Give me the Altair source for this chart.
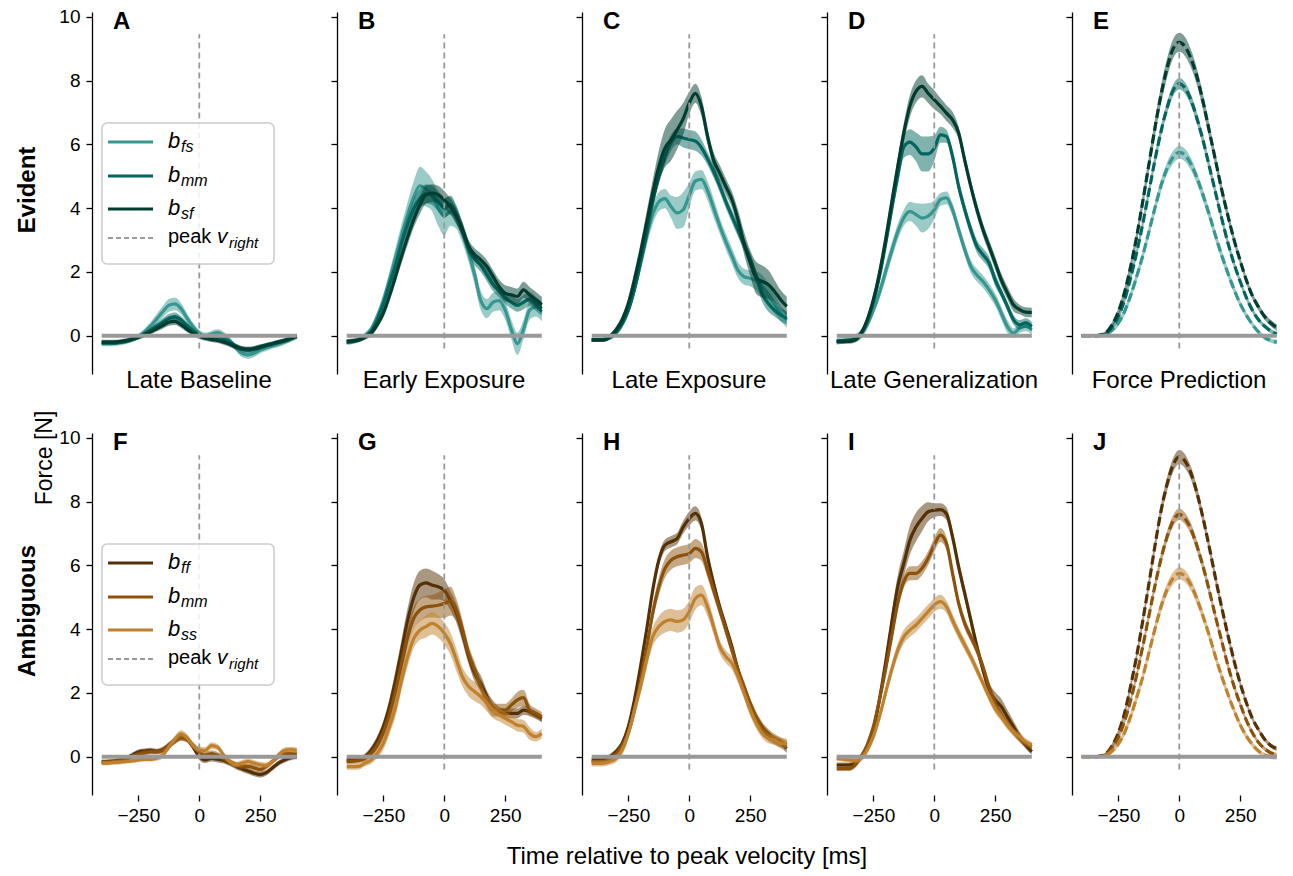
import altair as alt
import pandas as pd

# ---------------- data ----------------
T = list(range(-400, 401, 25))  # time relative to peak velocity [ms]

X_DOMAIN = [-440, 405]
Y_DOMAIN = [-1.2, 10.15]
Y_TICKS = [0, 2, 4, 6, 8, 10]
X_TICKS = [-250, 0, 250]
ZERO_SPAN = [-400, 400]
PEAK_T = 0
PEAK_SPAN = [-0.4, 9.45]

COND_TITLES = ["Late Baseline", "Early Exposure", "Late Exposure", "Late Generalization", "Force Prediction"]
TOP_LETTERS = ["A", "B", "C", "D", "E"]
BOT_LETTERS = ["F", "G", "H", "I", "J"]
ROW_NAMES = ["Evident", "Ambiguous"]
EV_SUBS = ["fs", "mm", "sf"]
AM_SUBS = ["ff", "mm", "ss"]
EV_COLORS = ["#35978f", "#01665e", "#003c30"]
AM_COLORS = ["#543005", "#8c510a", "#bf812d"]

# ---- Evident row ----
A_fs = [-0.25,-0.25,-0.24,-0.22,-0.18,-0.12,-0.02,0.12,0.30,0.52,0.75,0.95,1.00,0.85,0.55,0.28,0.08,0.00,0.05,0.10,0.02,-0.15,-0.38,-0.55,-0.60,-0.55,-0.45,-0.38,-0.32,-0.27,-0.20,-0.12,-0.02]
A_mm = [-0.22,-0.22,-0.22,-0.20,-0.17,-0.12,-0.05,0.05,0.17,0.30,0.43,0.55,0.60,0.50,0.32,0.15,0.02,-0.05,-0.05,-0.05,-0.10,-0.20,-0.32,-0.42,-0.45,-0.42,-0.36,-0.30,-0.25,-0.20,-0.15,-0.08,-0.02]
A_sf = [-0.20,-0.20,-0.20,-0.18,-0.15,-0.10,-0.05,0.03,0.12,0.22,0.32,0.42,0.45,0.35,0.20,0.08,-0.02,-0.08,-0.12,-0.15,-0.20,-0.27,-0.35,-0.40,-0.42,-0.40,-0.35,-0.30,-0.25,-0.20,-0.15,-0.08,-0.02]
A_fs_b = [0.08,0.08,0.08,0.08,0.08,0.08,0.08,0.10,0.12,0.15,0.18,0.20,0.20,0.18,0.15,0.12,0.10,0.10,0.10,0.10,0.10,0.10,0.10,0.12,0.12,0.12,0.10,0.10,0.08,0.08,0.08,0.08,0.08]
A_mm_b = [0.07,0.07,0.07,0.07,0.07,0.07,0.07,0.08,0.09,0.10,0.12,0.13,0.13,0.12,0.10,0.09,0.08,0.08,0.08,0.08,0.08,0.08,0.08,0.09,0.09,0.09,0.08,0.08,0.07,0.07,0.07,0.07,0.07]
A_sf_b = [0.07,0.07,0.07,0.07,0.07,0.07,0.07,0.08,0.08,0.09,0.10,0.11,0.11,0.10,0.09,0.08,0.08,0.08,0.08,0.08,0.08,0.08,0.08,0.08,0.08,0.08,0.08,0.07,0.07,0.07,0.07,0.07,0.07]

B_fs = [-0.20,-0.18,-0.12,0.00,0.20,0.60,1.10,1.75,2.45,3.15,3.80,4.35,4.70,4.60,4.40,4.00,3.75,3.90,3.70,3.20,2.60,1.90,1.10,0.85,1.05,1.10,0.80,0.20,-0.25,0.20,0.80,0.90,0.75]
B_mm = [-0.20,-0.18,-0.13,-0.02,0.12,0.50,1.00,1.60,2.20,2.90,3.50,4.00,4.30,4.45,4.40,4.20,4.00,4.10,3.80,3.30,2.75,2.40,2.20,1.90,1.60,1.40,1.20,1.05,0.95,1.05,1.15,1.00,0.85]
B_sf = [-0.18,-0.16,-0.13,-0.05,0.08,0.35,0.71,1.25,1.86,2.50,3.10,3.65,4.10,4.42,4.47,4.42,4.26,4.05,3.74,3.32,2.80,2.54,2.38,2.17,1.86,1.54,1.33,1.28,1.23,1.44,1.28,1.13,0.97]
B_fs_b = [0.08,0.08,0.08,0.10,0.12,0.15,0.20,0.25,0.30,0.35,0.40,0.50,0.60,0.55,0.50,0.55,0.60,0.45,0.35,0.30,0.30,0.30,0.30,0.30,0.30,0.30,0.30,0.30,0.35,0.30,0.30,0.30,0.30]
B_mm_b = [0.07,0.07,0.07,0.08,0.10,0.12,0.15,0.18,0.20,0.22,0.25,0.28,0.30,0.30,0.30,0.30,0.30,0.30,0.28,0.25,0.22,0.20,0.20,0.20,0.20,0.20,0.20,0.20,0.20,0.22,0.22,0.22,0.22]
B_sf_b = [0.07,0.07,0.07,0.08,0.10,0.12,0.15,0.18,0.20,0.22,0.25,0.25,0.28,0.28,0.28,0.28,0.28,0.25,0.25,0.22,0.20,0.20,0.20,0.20,0.20,0.22,0.25,0.25,0.25,0.25,0.25,0.25,0.25]

C_fs = [-0.13,-0.13,-0.12,-0.05,0.12,0.40,0.85,1.50,2.30,3.10,3.80,4.20,4.30,4.05,3.85,3.95,4.40,4.85,4.90,4.55,4.00,3.45,2.95,2.50,2.05,1.85,1.80,1.72,1.55,1.30,1.00,0.70,0.50]
C_mm = [-0.13,-0.13,-0.12,-0.05,0.10,0.38,0.80,1.45,2.30,3.20,4.20,5.00,5.60,6.05,6.25,6.20,6.15,6.10,5.90,5.55,5.15,4.70,4.20,3.75,3.30,2.85,2.40,1.85,1.30,1.00,0.80,0.65,0.55]
C_sf = [-0.13,-0.13,-0.13,-0.02,0.19,0.50,1.00,1.75,2.60,3.54,4.48,5.30,5.88,6.14,6.45,6.80,7.30,7.60,7.19,6.25,5.50,5.10,4.68,4.27,3.64,2.90,2.28,1.81,1.70,1.60,1.39,1.13,0.92]
C_fs_b = [0.06,0.06,0.06,0.08,0.10,0.15,0.20,0.25,0.30,0.30,0.30,0.30,0.30,0.35,0.50,0.55,0.40,0.30,0.30,0.30,0.30,0.25,0.25,0.25,0.25,0.25,0.25,0.30,0.35,0.35,0.30,0.25,0.25]
C_mm_b = [0.06,0.06,0.06,0.08,0.10,0.12,0.15,0.20,0.25,0.25,0.25,0.25,0.25,0.25,0.25,0.30,0.30,0.30,0.25,0.20,0.20,0.20,0.20,0.20,0.20,0.20,0.20,0.20,0.25,0.25,0.20,0.20,0.20]
C_sf_b = [0.06,0.06,0.06,0.08,0.10,0.15,0.20,0.25,0.30,0.35,0.40,0.50,0.60,0.65,0.60,0.50,0.35,0.30,0.30,0.25,0.25,0.25,0.25,0.25,0.30,0.35,0.40,0.50,0.50,0.45,0.35,0.30,0.30]

D_fs = [-0.18,-0.15,-0.12,-0.08,0.05,0.35,0.80,1.35,2.00,2.65,3.25,3.70,3.90,3.80,3.69,3.75,3.95,4.27,4.32,3.95,3.32,2.70,2.17,1.90,1.70,1.44,1.13,0.71,0.29,0.08,0.24,0.29,0.19]
D_mm = [-0.18,-0.17,-0.15,-0.10,0.06,0.45,1.05,1.85,2.85,3.95,5.00,5.92,6.07,5.92,5.70,5.70,5.88,6.30,6.25,5.62,4.68,3.95,3.32,2.80,2.54,2.28,1.75,1.34,0.92,0.50,0.34,0.40,0.29]
D_sf = [-0.18,-0.18,-0.18,-0.13,0.08,0.50,1.13,1.96,3.00,4.16,5.30,6.36,7.20,7.66,7.82,7.60,7.40,7.20,6.98,6.77,6.36,5.50,4.68,3.95,3.32,2.80,2.28,1.75,1.34,0.97,0.82,0.74,0.73]
D_fs_b = [0.10,0.10,0.10,0.12,0.15,0.15,0.15,0.20,0.25,0.25,0.25,0.25,0.30,0.35,0.45,0.40,0.30,0.20,0.20,0.20,0.20,0.20,0.20,0.20,0.20,0.20,0.20,0.20,0.20,0.15,0.15,0.15,0.15]
D_mm_b = [0.07,0.07,0.07,0.08,0.10,0.12,0.15,0.20,0.20,0.25,0.30,0.35,0.40,0.45,0.55,0.55,0.40,0.25,0.20,0.20,0.20,0.20,0.20,0.20,0.20,0.20,0.20,0.15,0.15,0.15,0.15,0.15,0.15]
D_sf_b = [0.07,0.07,0.07,0.08,0.10,0.12,0.15,0.20,0.20,0.25,0.25,0.30,0.35,0.35,0.35,0.30,0.30,0.25,0.25,0.25,0.20,0.20,0.20,0.20,0.20,0.20,0.20,0.20,0.20,0.20,0.15,0.15,0.15]

E_fs = [0.00,0.00,0.00,0.00,0.05,0.18,0.40,0.75,1.25,1.85,2.50,3.25,4.00,4.70,5.25,5.60,5.75,5.65,5.35,4.90,4.35,3.75,3.10,2.50,1.95,1.45,1.00,0.65,0.35,0.12,-0.05,-0.15,-0.20]
E_mm = [0.00,0.00,0.00,0.02,0.08,0.28,0.60,1.10,1.80,2.60,3.50,4.50,5.50,6.40,7.15,7.70,7.90,7.75,7.35,6.75,6.05,5.25,4.45,3.65,2.90,2.25,1.70,1.20,0.80,0.50,0.30,0.15,0.05]
E_sf = [0.00,0.00,0.00,0.02,0.10,0.35,0.75,1.35,2.15,3.10,4.20,5.35,6.50,7.55,8.40,9.00,9.20,9.05,8.65,8.05,7.25,6.35,5.45,4.55,3.75,3.00,2.35,1.75,1.25,0.90,0.60,0.40,0.25]
E_fs_b = [0.02,0.02,0.02,0.03,0.05,0.07,0.10,0.12,0.14,0.15,0.16,0.17,0.18,0.18,0.19,0.20,0.20,0.20,0.19,0.18,0.18,0.17,0.16,0.15,0.14,0.12,0.10,0.09,0.08,0.07,0.07,0.07,0.07]
E_mm_b = [0.02,0.02,0.02,0.03,0.05,0.07,0.10,0.12,0.14,0.15,0.16,0.17,0.18,0.18,0.18,0.18,0.18,0.18,0.18,0.17,0.17,0.16,0.15,0.14,0.13,0.12,0.10,0.09,0.08,0.07,0.07,0.07,0.07]
E_sf_b = [0.02,0.02,0.02,0.03,0.06,0.09,0.12,0.15,0.18,0.20,0.22,0.24,0.26,0.28,0.30,0.30,0.30,0.30,0.28,0.26,0.24,0.22,0.20,0.18,0.16,0.14,0.12,0.11,0.10,0.10,0.10,0.10,0.10]

# ---- Ambiguous row ----
F_ff = [-0.16,-0.15,-0.14,-0.10,-0.05,0.05,0.15,0.18,0.20,0.17,0.22,0.35,0.50,0.62,0.55,0.30,0.00,-0.10,-0.05,-0.08,-0.12,-0.20,-0.30,-0.38,-0.45,-0.52,-0.56,-0.50,-0.35,-0.20,-0.10,-0.03,0.00]
F_mm = [-0.18,-0.17,-0.15,-0.12,-0.08,0.00,0.08,0.12,0.15,0.15,0.20,0.35,0.50,0.60,0.55,0.35,0.15,0.05,0.10,0.05,-0.05,-0.15,-0.25,-0.30,-0.30,-0.35,-0.40,-0.30,-0.15,0.00,0.10,0.10,0.08]
F_ss = [-0.20,-0.20,-0.18,-0.17,-0.15,-0.13,-0.10,-0.08,-0.08,-0.05,0.05,0.30,0.55,0.72,0.60,0.35,0.22,0.20,0.35,0.30,0.05,-0.15,-0.25,-0.20,-0.15,-0.20,-0.25,-0.27,-0.15,0.05,0.20,0.22,0.20]
F_ff_b = [0.07,0.07,0.07,0.07,0.07,0.08,0.08,0.08,0.08,0.08,0.09,0.10,0.10,0.10,0.10,0.10,0.10,0.10,0.10,0.10,0.09,0.09,0.09,0.09,0.09,0.09,0.09,0.09,0.08,0.08,0.08,0.08,0.08]
F_mm_b = [0.07,0.07,0.07,0.07,0.07,0.08,0.08,0.08,0.08,0.08,0.09,0.10,0.10,0.10,0.10,0.10,0.10,0.10,0.10,0.10,0.09,0.09,0.09,0.09,0.09,0.09,0.09,0.09,0.08,0.08,0.08,0.08,0.08]
F_ss_b = [0.07,0.07,0.07,0.07,0.07,0.07,0.07,0.07,0.07,0.08,0.09,0.10,0.11,0.11,0.11,0.10,0.10,0.10,0.10,0.10,0.09,0.09,0.09,0.09,0.09,0.09,0.09,0.09,0.09,0.09,0.09,0.09,0.09]

G_ff = [-0.10,-0.10,-0.08,0.00,0.20,0.50,0.93,1.56,2.40,3.34,4.28,5.00,5.38,5.45,5.38,5.33,5.22,4.90,4.50,3.87,3.14,2.60,2.30,1.88,1.56,1.41,1.36,1.36,1.36,1.46,1.41,1.31,1.20]
G_mm = [-0.15,-0.14,-0.12,-0.05,0.10,0.35,0.75,1.30,2.05,2.90,3.75,4.35,4.60,4.70,4.72,4.75,4.80,4.88,4.60,3.97,3.24,2.72,2.20,1.72,1.46,1.46,1.46,1.62,1.78,1.85,1.46,1.36,1.25]
G_ss = [-0.31,-0.31,-0.30,-0.20,-0.10,0.10,0.42,0.94,1.56,2.40,3.14,3.71,3.97,4.08,4.18,4.08,3.87,3.55,3.03,2.50,2.20,2.04,1.88,1.67,1.46,1.31,1.20,1.10,0.99,0.95,0.73,0.63,0.73]
G_ff_b = [0.08,0.08,0.08,0.10,0.12,0.15,0.20,0.25,0.30,0.35,0.40,0.45,0.45,0.45,0.45,0.40,0.35,0.30,0.30,0.30,0.25,0.25,0.25,0.20,0.20,0.15,0.15,0.15,0.15,0.15,0.12,0.12,0.12]
G_mm_b = [0.08,0.08,0.08,0.10,0.12,0.15,0.20,0.25,0.30,0.35,0.35,0.35,0.35,0.35,0.35,0.40,0.45,0.45,0.35,0.30,0.25,0.25,0.20,0.20,0.20,0.20,0.20,0.20,0.25,0.25,0.20,0.15,0.15]
G_ss_b = [0.10,0.10,0.10,0.10,0.12,0.15,0.20,0.25,0.30,0.30,0.30,0.30,0.30,0.35,0.35,0.35,0.35,0.35,0.35,0.30,0.30,0.30,0.25,0.25,0.25,0.20,0.20,0.20,0.20,0.20,0.20,0.15,0.15]

H_ff = [-0.10,-0.10,-0.09,0.00,0.16,0.42,0.94,1.78,2.82,3.97,5.22,6.16,6.63,6.74,6.84,7.20,7.47,7.63,7.31,6.27,5.43,4.70,4.08,3.45,2.72,2.09,1.57,1.15,0.84,0.63,0.52,0.42,0.26]
H_mm = [-0.16,-0.16,-0.15,-0.08,0.08,0.35,0.75,1.45,2.40,3.40,4.50,5.33,5.90,6.16,6.27,6.32,6.37,6.53,6.42,5.85,5.22,4.60,3.97,3.34,2.72,2.20,1.68,1.25,0.94,0.73,0.57,0.47,0.37]
H_ss = [-0.21,-0.21,-0.20,-0.15,-0.05,0.21,0.73,1.46,2.20,3.03,3.76,4.08,4.24,4.29,4.24,4.29,4.55,4.96,5.07,4.70,4.08,3.45,3.14,2.93,2.51,1.99,1.46,1.04,0.73,0.57,0.52,0.42,0.42]
H_ff_b = [0.08,0.08,0.08,0.09,0.10,0.12,0.14,0.16,0.18,0.18,0.18,0.18,0.18,0.18,0.18,0.20,0.22,0.22,0.20,0.18,0.18,0.16,0.15,0.15,0.15,0.15,0.15,0.14,0.14,0.14,0.14,0.14,0.14]
H_mm_b = [0.08,0.08,0.08,0.09,0.10,0.12,0.15,0.18,0.20,0.22,0.25,0.28,0.30,0.30,0.30,0.30,0.30,0.30,0.28,0.25,0.22,0.20,0.18,0.18,0.16,0.16,0.15,0.15,0.14,0.14,0.14,0.14,0.14]
H_ss_b = [0.10,0.10,0.10,0.10,0.12,0.15,0.18,0.22,0.25,0.28,0.30,0.32,0.35,0.35,0.35,0.35,0.35,0.35,0.32,0.30,0.25,0.22,0.20,0.20,0.20,0.18,0.18,0.16,0.15,0.15,0.15,0.15,0.15]

I_ff = [-0.26,-0.26,-0.26,-0.21,0.00,0.31,0.84,1.78,2.93,4.18,5.33,6.06,6.79,7.20,7.47,7.68,7.73,7.75,7.62,6.89,5.95,5.12,4.28,3.45,2.72,2.09,1.78,1.57,1.25,0.94,0.63,0.37,0.16]
I_mm = [-0.37,-0.37,-0.37,-0.26,0.00,0.37,0.94,1.78,2.72,3.76,4.81,5.49,5.75,5.75,5.91,6.22,6.64,6.95,6.69,5.75,4.81,4.18,3.76,3.34,2.82,2.19,1.67,1.31,1.04,0.78,0.57,0.42,0.31]
I_ss = [-0.05,-0.08,-0.10,-0.12,-0.05,0.21,0.63,1.25,1.99,2.72,3.34,3.76,3.97,4.13,4.34,4.55,4.76,4.86,4.70,4.28,3.87,3.50,3.13,2.72,2.30,1.88,1.51,1.25,0.99,0.78,0.63,0.47,0.37]
I_ff_b = [0.08,0.08,0.08,0.09,0.10,0.12,0.15,0.20,0.25,0.30,0.35,0.40,0.45,0.45,0.40,0.30,0.22,0.20,0.20,0.20,0.20,0.20,0.20,0.20,0.20,0.22,0.25,0.25,0.22,0.18,0.15,0.12,0.10]
I_mm_b = [0.08,0.08,0.08,0.09,0.10,0.12,0.14,0.16,0.18,0.20,0.20,0.20,0.22,0.22,0.22,0.22,0.22,0.22,0.20,0.20,0.18,0.18,0.16,0.16,0.15,0.15,0.15,0.14,0.14,0.12,0.12,0.10,0.10]
I_ss_b = [0.08,0.08,0.08,0.09,0.10,0.12,0.14,0.16,0.18,0.20,0.22,0.22,0.22,0.22,0.22,0.22,0.22,0.22,0.20,0.20,0.18,0.18,0.16,0.16,0.15,0.15,0.15,0.14,0.14,0.12,0.12,0.10,0.10]

J_ff = [0.00,0.00,0.00,0.02,0.10,0.35,0.75,1.35,2.20,3.15,4.25,5.40,6.60,7.70,8.55,9.15,9.40,9.25,8.85,8.20,7.40,6.50,5.55,4.65,3.80,3.00,2.30,1.70,1.20,0.85,0.55,0.35,0.25]
J_mm = [0.00,0.00,0.00,0.02,0.08,0.28,0.60,1.10,1.75,2.55,3.45,4.40,5.35,6.20,6.90,7.40,7.60,7.45,7.10,6.55,5.90,5.15,4.35,3.60,2.85,2.20,1.65,1.15,0.75,0.45,0.25,0.12,0.05]
J_ss = [0.00,0.00,0.00,0.00,0.05,0.18,0.40,0.75,1.25,1.85,2.50,3.25,4.00,4.70,5.25,5.60,5.75,5.65,5.35,4.90,4.35,3.75,3.10,2.50,1.95,1.45,1.00,0.65,0.38,0.18,0.05,0.00,-0.02]
J_ff_b = [0.02,0.02,0.02,0.03,0.05,0.08,0.10,0.12,0.14,0.15,0.16,0.18,0.20,0.20,0.22,0.22,0.22,0.22,0.20,0.20,0.18,0.17,0.16,0.15,0.14,0.12,0.10,0.09,0.08,0.07,0.07,0.07,0.07]
J_mm_b = [0.02,0.02,0.02,0.03,0.05,0.07,0.09,0.11,0.13,0.14,0.15,0.16,0.17,0.18,0.18,0.18,0.18,0.18,0.18,0.17,0.16,0.15,0.14,0.13,0.12,0.11,0.10,0.09,0.08,0.07,0.07,0.07,0.07]
J_ss_b = [0.02,0.02,0.02,0.03,0.05,0.07,0.09,0.11,0.13,0.14,0.15,0.16,0.17,0.18,0.18,0.19,0.19,0.19,0.18,0.17,0.16,0.15,0.14,0.13,0.12,0.11,0.10,0.09,0.08,0.07,0.07,0.07,0.07]

TOP = [([A_fs, A_mm, A_sf], [A_fs_b, A_mm_b, A_sf_b]),
       ([B_fs, B_mm, B_sf], [B_fs_b, B_mm_b, B_sf_b]),
       ([C_fs, C_mm, C_sf], [C_fs_b, C_mm_b, C_sf_b]),
       ([D_fs, D_mm, D_sf], [D_fs_b, D_mm_b, D_sf_b]),
       ([E_fs, E_mm, E_sf], [E_fs_b, E_mm_b, E_sf_b])]
BOT = [([F_ff, F_mm, F_ss], [F_ff_b, F_mm_b, F_ss_b]),
       ([G_ff, G_mm, G_ss], [G_ff_b, G_mm_b, G_ss_b]),
       ([H_ff, H_mm, H_ss], [H_ff_b, H_mm_b, H_ss_b]),
       ([I_ff, I_mm, I_ss], [I_ff_b, I_mm_b, I_ss_b]),
       ([J_ff, J_mm, J_ss], [J_ff_b, J_mm_b, J_ss_b])]

# ---------------- style / layout ----------------
W, H = 206, 362
CX = 107            # pixel position of t = 0 inside a panel
COL_GAP, ROW_GAP = 39, 59
FONT = "Liberation Sans"
GREY = "#999999"
LEG_BOX = (10, 182, 111, 252)
LEG_ROWS = [130, 164, 197, 226]
ONE = pd.DataFrame({"k": [0]})


def xscale():
    return alt.Scale(domain=X_DOMAIN, nice=False, zero=False)


def yscale():
    return alt.Scale(domain=Y_DOMAIN, nice=False, zero=False)


def x_axis(bottom):
    return alt.Axis(values=X_TICKS, domain=False, ticks=bottom, labels=bottom, title=None, grid=False,
                    labelFontSize=19, labelPadding=5, tickSize=6, tickWidth=1.3, labelFont=FONT,
                    labelColor="black", tickColor="black")


def y_axis(first):
    return alt.Axis(values=Y_TICKS, labels=first, title=None, grid=False, domain=True,
                    domainColor="black", domainWidth=1.3, tickColor="black", tickWidth=1.3,
                    tickSize=6, labelFontSize=19, labelPadding=6, labelFont=FONT, labelColor="black")


def txt(text, x, y, size, weight="normal", style="normal", align="left", angle=0):
    return alt.Chart(ONE).mark_text(text=text, font=FONT, fontSize=size, fontWeight=weight,
                                    fontStyle=style, align=align, baseline="middle", angle=angle,
                                    color="black").encode(x=alt.value(x), y=alt.value(y))


def legend_layers(subs, colors):
    x0, x1, y0, y1 = LEG_BOX
    out = [alt.Chart(ONE).mark_rect(fill="white", fillOpacity=0.85, stroke="#cccccc", strokeWidth=1.5,
                                    cornerRadius=5).encode(x=alt.value(x0), x2=alt.value(x1),
                                                           y=alt.value(y0), y2=alt.value(y1))]
    for sub, col, ry in zip(subs, colors, LEG_ROWS[:3]):
        out.append(alt.Chart(ONE).mark_rule(color=col, strokeWidth=3.2).encode(
            x=alt.value(16), x2=alt.value(61), y=alt.value(ry)))
        out.append(txt("b", 76, ry - 1, 22, style="italic"))
        out.append(txt(sub, 89, ry + 5, 16, style="italic"))
    ry = LEG_ROWS[3]
    out.append(alt.Chart(ONE).mark_rule(color=GREY, strokeWidth=1.8, strokeDash=[5, 3]).encode(
        x=alt.value(16), x2=alt.value(61), y=alt.value(ry)))
    out.append(txt("peak", 76, ry - 1, 20))
    out.append(txt("v", 125, ry - 1, 21, style="italic"))
    out.append(txt("right", 137, ry + 5, 15, style="italic"))
    return out


def make_panel(col_idx, row_idx, series, bands):
    bottom = row_idx == 1
    first = col_idx == 0
    predicted = col_idx == 4
    subs = AM_SUBS if bottom else EV_SUBS
    colors = AM_COLORS if bottom else EV_COLORS
    letter = (BOT_LETTERS if bottom else TOP_LETTERS)[col_idx]
    xs, ys = xscale(), yscale()
    xa, ya = x_axis(bottom), y_axis(first)
    layers = []
    for col, vals, band in zip(colors, series, bands):
        df = pd.DataFrame({"t": T, "f": vals,
                           "lo": [v - b for v, b in zip(vals, band)],
                           "hi": [v + b for v, b in zip(vals, band)]})
        base = alt.Chart(df)
        layers.append(base.mark_area(color=col, opacity=0.5, interpolate="monotone").encode(
            x=alt.X("t:Q", scale=xs, axis=xa), y=alt.Y("lo:Q", scale=ys, axis=ya), y2="hi:Q"))
        kw = dict(color=col, strokeWidth=3.2, interpolate="monotone")
        if predicted:
            kw["strokeDash"] = [9, 4]
        layers.append(base.mark_line(**kw).encode(
            x=alt.X("t:Q", scale=xs, axis=xa), y=alt.Y("f:Q", scale=ys, axis=ya)))
    zdf = pd.DataFrame({"a": [ZERO_SPAN[0]], "b": [ZERO_SPAN[1]], "y": [0]})
    layers.append(alt.Chart(zdf).mark_rule(color=GREY, strokeWidth=4).encode(
        x=alt.X("a:Q", scale=xs, axis=xa), x2="b:Q", y=alt.Y("y:Q", scale=ys, axis=ya)))
    pdf = pd.DataFrame({"x": [PEAK_T], "y0": [PEAK_SPAN[0]], "y1": [PEAK_SPAN[1]]})
    layers.append(alt.Chart(pdf).mark_rule(color=GREY, strokeWidth=1.8, strokeDash=[6, 4]).encode(
        x=alt.X("x:Q", scale=xs, axis=xa), y=alt.Y("y0:Q", scale=ys, axis=ya), y2="y1:Q"))
    layers.append(txt(letter, 21, 10, 24, weight="bold"))
    if not bottom:
        layers.append(txt(COND_TITLES[col_idx], CX, H + 7, 24, align="center"))
    if first:
        layers += legend_layers(subs, colors)
        layers.append(txt(ROW_NAMES[row_idx], -64, H / 2 - 3, 24, weight="bold", align="center", angle=270))
        if not bottom:
            layers.append(txt("Force [N]", -47, H + 84, 23, align="center", angle=270))
    if bottom and col_idx == 2:
        layers.append(txt("Time relative to peak velocity [ms]", CX - 2, H + 62, 24, align="center"))
    return alt.layer(*layers).properties(width=W, height=H)


panels = [make_panel(i, 0, s, b) for i, (s, b) in enumerate(TOP)] + \
         [make_panel(i, 1, s, b) for i, (s, b) in enumerate(BOT)]

chart = alt.concat(*panels, columns=5, spacing={"row": ROW_GAP, "column": COL_GAP}, bounds="flush").properties(
    padding={"left": 8, "top": -1, "right": 0, "bottom": 0}, background="white"
).configure_view(strokeWidth=0, stroke="transparent")

chart.save("out.html", embed_options={"renderer": "svg", "actions": False})
